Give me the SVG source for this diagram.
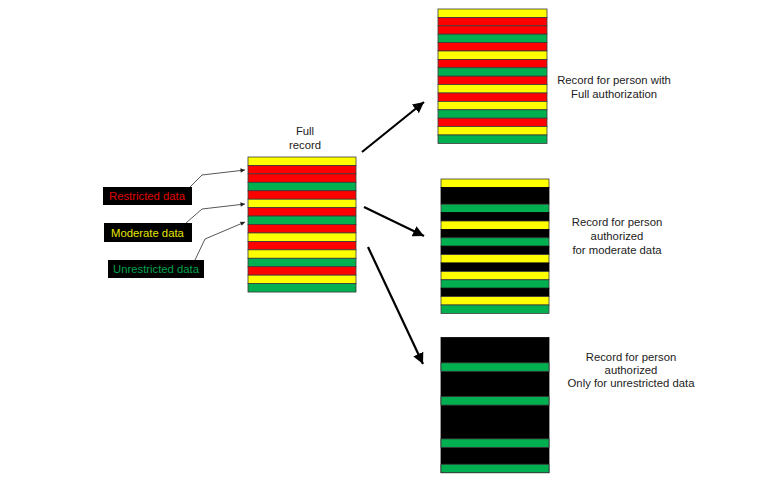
<svg xmlns="http://www.w3.org/2000/svg" width="779" height="481" viewBox="0 0 779 481">
<style>
.y{fill:#FFFF00;stroke:#3a3a3a;stroke-width:0.8}
.r{fill:#FF0000;stroke:#3a3a3a;stroke-width:0.8}
.g{fill:#00B050;stroke:#3a3a3a;stroke-width:0.8}
.k{fill:#000000;stroke:#000000;stroke-width:0.8}
.t{font-family:"Liberation Sans",Arial,sans-serif;font-size:11.3px;fill:#222222;text-anchor:middle}
.lt{font-family:"Liberation Sans",Arial,sans-serif;font-size:11.3px}
.lead{fill:none;stroke:#444444;stroke-width:0.9}
.big{fill:none;stroke:#000000;stroke-width:2.2}
</style>
<defs>
<marker id="ah" viewBox="0 0 10 10" refX="10" refY="5" markerWidth="5" markerHeight="5" orient="auto" markerUnits="strokeWidth"><path d="M0,0 L10,5 L0,10 z" fill="#000"/></marker>
<marker id="sh" viewBox="0 0 10 10" refX="10" refY="5" markerWidth="6" markerHeight="5" orient="auto" markerUnits="strokeWidth"><path d="M0,0 L10,5 L0,10 z" fill="#222"/></marker>
</defs>
<rect width="779" height="481" fill="#ffffff"/>

<g id="full-record">
<rect class="y" x="248" y="157" width="108" height="8.44"/>
<rect class="r" x="248" y="165.44" width="108" height="8.44"/>
<rect class="r" x="248" y="173.88" width="108" height="8.44"/>
<rect class="g" x="248" y="182.32" width="108" height="8.44"/>
<rect class="r" x="248" y="190.76" width="108" height="8.44"/>
<rect class="y" x="248" y="199.2" width="108" height="8.44"/>
<rect class="r" x="248" y="207.64" width="108" height="8.44"/>
<rect class="g" x="248" y="216.08" width="108" height="8.44"/>
<rect class="r" x="248" y="224.52" width="108" height="8.44"/>
<rect class="y" x="248" y="232.96" width="108" height="8.44"/>
<rect class="r" x="248" y="241.4" width="108" height="8.44"/>
<rect class="y" x="248" y="249.84" width="108" height="8.44"/>
<rect class="g" x="248" y="258.28" width="108" height="8.44"/>
<rect class="r" x="248" y="266.72" width="108" height="8.44"/>
<rect class="y" x="248" y="275.16" width="108" height="8.44"/>
<rect class="g" x="248" y="283.6" width="108" height="8.44"/>
<text class="t" x="305" y="135">Full</text>
<text class="t" x="305" y="149">record</text>
</g>

<g id="legend-restricted">
<rect x="103" y="187" width="89" height="18" fill="#000"/>
<text class="lt" x="109" y="199.5" fill="#E00000">Restricted data</text>
</g>
<g id="legend-moderate">
<rect x="104" y="223" width="88" height="19" fill="#000"/>
<text class="lt" x="111" y="236.5" fill="#E6E600">Moderate data</text>
</g>
<g id="legend-unrestricted">
<rect x="108" y="260" width="96" height="18" fill="#000"/>
<text class="lt" x="113" y="273" fill="#00A050">Unrestricted data</text>
</g>

<g id="record-full-auth">
<rect class="y" x="438" y="9" width="109" height="8.4"/>
<rect class="r" x="438" y="17.4" width="109" height="8.4"/>
<rect class="r" x="438" y="25.8" width="109" height="8.4"/>
<rect class="g" x="438" y="34.2" width="109" height="8.4"/>
<rect class="r" x="438" y="42.6" width="109" height="8.4"/>
<rect class="y" x="438" y="51" width="109" height="8.4"/>
<rect class="r" x="438" y="59.4" width="109" height="8.4"/>
<rect class="g" x="438" y="67.8" width="109" height="8.4"/>
<rect class="r" x="438" y="76.2" width="109" height="8.4"/>
<rect class="y" x="438" y="84.6" width="109" height="8.4"/>
<rect class="r" x="438" y="93" width="109" height="8.4"/>
<rect class="y" x="438" y="101.4" width="109" height="8.4"/>
<rect class="g" x="438" y="109.8" width="109" height="8.4"/>
<rect class="r" x="438" y="118.2" width="109" height="8.4"/>
<rect class="y" x="438" y="126.6" width="109" height="8.4"/>
<rect class="g" x="438" y="135" width="109" height="8.4"/>
<text class="t" x="614" y="84">Record for person with</text>
<text class="t" x="614" y="98">Full authorization</text>
</g>

<g id="record-moderate">
<rect class="y" x="441" y="179" width="108" height="8.4"/>
<rect class="k" x="441" y="187.4" width="108" height="16.8"/>
<rect class="g" x="441" y="204.2" width="108" height="8.4"/>
<rect class="k" x="441" y="212.6" width="108" height="8.4"/>
<rect class="y" x="441" y="221" width="108" height="8.4"/>
<rect class="k" x="441" y="229.4" width="108" height="8.4"/>
<rect class="g" x="441" y="237.8" width="108" height="8.4"/>
<rect class="k" x="441" y="246.2" width="108" height="8.4"/>
<rect class="y" x="441" y="254.6" width="108" height="8.4"/>
<rect class="k" x="441" y="263" width="108" height="8.4"/>
<rect class="y" x="441" y="271.4" width="108" height="8.4"/>
<rect class="g" x="441" y="279.8" width="108" height="8.4"/>
<rect class="k" x="441" y="288.2" width="108" height="8.4"/>
<rect class="y" x="441" y="296.6" width="108" height="8.4"/>
<rect class="g" x="441" y="305" width="108" height="8.4"/>
<text class="t" x="617" y="226">Record for person</text>
<text class="t" x="617" y="240">authorized</text>
<text class="t" x="617" y="254">for moderate data</text>
</g>

<g id="record-unrestricted">
<rect class="k" x="441" y="337.5" width="108" height="135.2"/>
<rect class="g" x="441" y="362.85" width="108" height="8.45"/>
<rect class="g" x="441" y="396.65" width="108" height="8.45"/>
<rect class="g" x="441" y="438.9" width="108" height="8.45"/>
<rect class="g" x="441" y="464.25" width="108" height="8.45"/>
<text class="t" x="631" y="361">Record for person</text>
<text class="t" x="631" y="374">authorized</text>
<text class="t" x="631" y="387">Only for unrestricted data</text>
</g>

<g id="connectors">
<polyline class="lead" points="190,187 202,175 245,170" marker-end="url(#sh)"/>
<polyline class="lead" points="186,223 202,209 245,204" marker-end="url(#sh)"/>
<polyline class="lead" points="195,260 205,239 245,222" marker-end="url(#sh)"/>
<line class="big" x1="362" y1="152" x2="424" y2="102" marker-end="url(#ah)"/>
<line class="big" x1="364" y1="207" x2="424" y2="236" marker-end="url(#ah)"/>
<line class="big" x1="368" y1="247" x2="423" y2="364" marker-end="url(#ah)"/>
</g>
</svg>
